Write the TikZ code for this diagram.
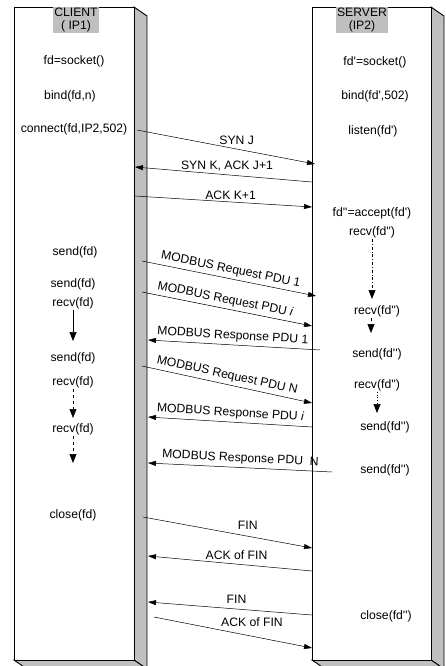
\documentclass[tikz,border=0pt]{standalone}
\usepackage{fontspec}
\setmainfont{Liberation Sans}[Ligatures=TeXOff]
\usepackage{tikz}
\usetikzlibrary{arrows.meta}
\newcommand{\diagfont}{\fontsize{12.2}{12.5}\selectfont}

\begin{document}
\begin{tikzpicture}[x=1pt, y=-1pt,
  front/.style={draw, line width=.9pt, fill=white},
  shade/.style={draw, line width=.9pt, fill=gray!50},
  hdr/.style={fill=gray!50, align=center, inner sep=1.5pt, font=\diagfont},
  call/.style={font=\diagfont, inner sep=1pt},
  msg/.style={-{Triangle[length=8pt,width=5pt]}, line width=.5pt},
  rmsg/.style={{Triangle[length=8pt,width=5pt]}-, line width=.5pt},
  hlab/.style={font=\diagfont, inner sep=1pt},
  slab/.style={font=\diagfont, inner sep=1pt, sloped, above=2pt},
  flow/.style={-{Triangle[length=9pt,width=7pt]}, line width=.7pt},
]
\useasboundingbox (0,0) rectangle (445,666);
\clip (0,0) rectangle (445,666);

% the two hosts, boxes with a shaded side and bottom
\foreach \xl/\xr in {14/134, 312/431}{
  \draw[shade] (\xr,7) -- (\xr+13,16) -- (\xr+13,669) -- (\xr,660) -- cycle;
  \draw[shade] (\xl,660) -- (\xr,660) -- (\xr+13,669) -- (\xl+13,669) -- cycle;
  \draw[front] (\xl,7) rectangle (\xr,660);
}
\node[hdr] (cli) at (76,20) {CLIENT\\( IP1)};
\node[hdr] (srv) at (362,20) {SERVER\\(IP2)};

% client calls
\node[call] (csock) at (74,61) {fd=socket()};
\node[call] (cbind) at (70,96) {bind(fd,n)};
\node[call] (cconn) at (74,129) {connect(fd,IP2,502)};
\node[call] (csend1) at (75,252) {send(fd)};
\node[call] (csend2) at (73,284) {send(fd)};
\node[call] (crecv1) at (73,303) {recv(fd)};
\node[call] (csend3) at (73,358) {send(fd)};
\node[call] (crecv2) at (73,382) {recv(fd)};
\node[call] (crecv3) at (73,429) {recv(fd)};
\node[call] (cclose) at (73,515) {close(fd)};

% server calls
\node[call] (ssock) at (375,62) {fd'=socket()};
\node[call] (sbind) at (375,96) {bind(fd',502)};
\node[call] (slisten) at (373,131) {listen(fd')};
\node[call] (saccept) at (372,213) {fd''=accept(fd')};
\node[call] (srecv1) at (372,232) {recv(fd'')};
\node[call] (srecv2) at (377,311) {recv(fd'')};
\node[call] (ssend1) at (377,354) {send(fd'')};
\node[call] (srecv3) at (377,385) {recv(fd'')};
\node[call] (ssend2) at (385,427) {send(fd'')};
\node[call] (ssend3) at (385,470) {send(fd'')};
\node[call] (sclose) at (386,616) {close(fd'')};

% waiting arrows
\coordinate (cend1) at (73,341);
\coordinate (cend2) at (73,418);
\coordinate (cend3) at (73,463);
\draw[flow] (crecv1.south) -- (cend1);
\draw[flow, dashed] (crecv2.south) -- (cend2);
\draw[flow, dashed] (crecv3.south) -- (cend3);
\coordinate (sarr1) at (372,299);
\coordinate (sarr2) at (371,333);
\coordinate (sarr3) at (377,413);
\draw[flow, dash dot] (srecv1.south) -- (sarr1);
\draw[flow, dashed] (srecv2.south -| sarr2) -- (sarr2);
\draw[flow, dotted] (srecv3.south) -- (sarr3);

% connection set-up
\coordinate (syn1) at (137,130);  \coordinate (syn2) at (315,164);
\draw[msg] (syn1) -- node[hlab, pos=.56, above=3pt] {SYN J} (syn2);
\coordinate (sak1) at (135,167);  \coordinate (sak2) at (312,182);
\draw[rmsg] (sak1) -- node[hlab, pos=.52, above=2pt] {SYN K, ACK J+1} (sak2);
\coordinate (ack1) at (135,196);  \coordinate (ack2) at (312,207);
\draw[msg] (ack1) -- node[hlab, pos=.54, above=1pt] {ACK K+1} (ack2);

% requests and responses
\coordinate (rq1a) at (142,261);  \coordinate (rq1b) at (316,296);
\draw[msg] (rq1a) -- node[slab, pos=.5] {MODBUS Request PDU 1} (rq1b);
\coordinate (rqia) at (142,292);  \coordinate (rqib) at (312,326);
\draw[msg] (rqia) -- node[slab, pos=.48] {MODBUS Request PDU \textit{i}} (rqib);
\coordinate (rs1a) at (148,340);  \coordinate (rs1b) at (320,350);
\draw[rmsg] (rs1a) -- node[slab, pos=.49] {MODBUS Response PDU 1} (rs1b);
\coordinate (rqna) at (142,366);  \coordinate (rqnb) at (312,403);
\draw[msg] (rqna) -- node[slab, pos=.49] {MODBUS Request PDU N} (rqnb);
\coordinate (rsia) at (148,417);  \coordinate (rsib) at (312,427);
\draw[rmsg] (rsia) -- node[slab, pos=.5] {MODBUS Response PDU \textit{i}} (rsib);
\coordinate (rsna) at (148,463);  \coordinate (rsnb) at (332,472);
\draw[rmsg] (rsna) -- node[slab, pos=.5] {MODBUS Response PDU\ \ N} (rsnb);

% connection release
\coordinate (fin1a) at (143,517); \coordinate (fin1b) at (312,548);
\draw[msg] (fin1a) -- node[hlab, pos=.62, above=5pt] {FIN} (fin1b);
\coordinate (fa1a) at (148,556);  \coordinate (fa1b) at (312,571);
\draw[rmsg] (fa1a) -- node[hlab, pos=.54, above=3pt] {ACK of FIN} (fa1b);
\coordinate (fin2a) at (148,602); \coordinate (fin2b) at (312,615);
\draw[rmsg] (fin2a) -- node[hlab, pos=.54, above=4pt] {FIN} (fin2b);
\coordinate (fa2a) at (154,617);  \coordinate (fa2b) at (312,648);
\draw[msg] (fa2a) -- node[hlab, pos=.62, above=8pt] {ACK of FIN} (fa2b);
\end{tikzpicture}
\end{document}
